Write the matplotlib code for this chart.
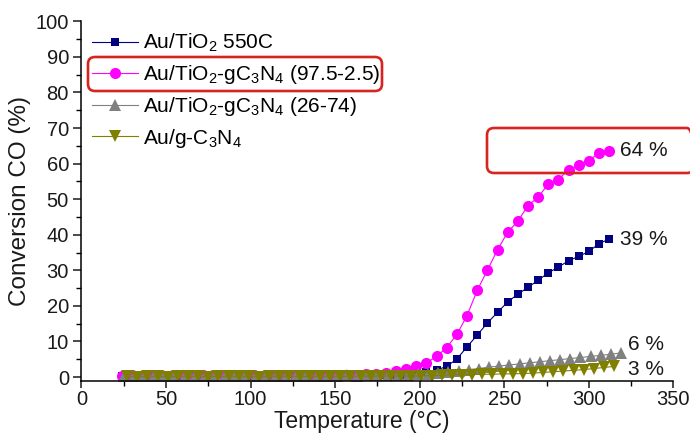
"""
CO conversion vs temperature for Au catalysts (recreated figure).
"""

import matplotlib
matplotlib.use("Agg")
import matplotlib.pyplot as plt
from matplotlib.patches import FancyBboxPatch
from matplotlib.ticker import MultipleLocator

plt.rcParams["font.family"] = ["Liberation Sans", "DejaVu Sans"]
plt.rcParams["mathtext.fontset"] = "custom"
plt.rcParams["mathtext.rm"] = "Liberation Sans"
plt.rcParams["mathtext.default"] = "regular"

# --- data ---
T_TIO2 = [24, 30, 36, 42, 48, 54, 60, 66, 72, 78, 84, 90, 96, 102, 108, 114, 120,
          126, 132, 138, 144, 150, 156, 162, 168, 174, 180, 186, 192, 198, 204, 210,
          216, 222, 228, 234, 240, 246, 252, 258, 264, 270, 276, 282, 288, 294, 300,
          306, 312]
CONV_TIO2 = [0.3, 0.2, 0.3, 0.2, 0.3, 0.3, 0.2, 0.3, 0.3, 0.2, 0.3, 0.3, 0.3, 0.2,
             0.3, 0.3, 0.3, 0.4, 0.3, 0.3, 0.4, 0.4, 0.4, 0.4, 0.5, 0.5, 0.5, 0.6,
             0.7, 0.9, 1.3, 2.0, 3.0, 5.1, 8.5, 11.8, 15.2, 18.2, 21.1, 23.3, 25.2,
             27.2, 29.3, 30.9, 32.7, 33.9, 35.3, 37.5, 38.8]

T_MIX1 = T_TIO2
CONV_MIX1 = [0.4, 0.5, 0.4, 0.5, 0.4, 0.5, 0.5, 0.4, 0.5, 0.5, 0.4, 0.5, 0.5, 0.5,
             0.4, 0.5, 0.5, 0.5, 0.5, 0.4, 0.5, 0.5, 0.6, 0.7, 0.8, 1.0, 1.2, 1.6,
             2.2, 3.0, 4.0, 5.8, 8.3, 12.0, 17.3, 24.4, 30.0, 35.8, 40.7, 43.8, 48.2,
             50.5, 54.3, 55.5, 58.3, 59.5, 60.8, 63.0, 63.6]

T_MIX2 = [25, 31, 37, 43, 49, 55, 61, 67, 73, 79, 85, 91, 97, 103, 109, 115, 121,
          127, 133, 139, 145, 151, 157, 163, 169, 175, 181, 187, 193, 199, 205, 211,
          217, 223, 229, 235, 241, 247, 253, 259, 265, 271, 277, 283, 289, 295, 301,
          307, 313, 319]
CONV_MIX2 = [0.3, 0.4, 0.3, 0.4, 0.4, 0.3, 0.4, 0.4, 0.3, 0.4, 0.4, 0.4, 0.3, 0.4,
             0.4, 0.4, 0.4, 0.3, 0.4, 0.4, 0.4, 0.4, 0.5, 0.4, 0.5, 0.5, 0.5, 0.6,
             0.6, 0.8, 1.0, 1.2, 1.5, 1.8, 2.1, 2.4, 2.8, 3.1, 3.4, 3.7, 4.0, 4.3,
             4.6, 4.9, 5.2, 5.5, 5.8, 6.1, 6.4, 6.8]

T_GCN = [27, 33, 39, 45, 51, 57, 63, 69, 75, 81, 87, 93, 99, 105, 111, 117, 123,
         129, 135, 141, 147, 153, 159, 165, 171, 177, 183, 189, 195, 201, 207, 213,
         219, 225, 231, 237, 243, 249, 255, 261, 267, 273, 279, 285, 291, 297, 303,
         309, 315]
CONV_GCN = [0.2, 0.1, 0.2, 0.2, 0.1, 0.2, 0.2, 0.2, 0.1, 0.2, 0.2, 0.2, 0.2, 0.1,
            0.2, 0.2, 0.2, 0.2, 0.2, 0.2, 0.2, 0.2, 0.2, 0.3, 0.2, 0.3, 0.3, 0.3,
            0.3, 0.3, 0.4, 0.5, 0.6, 0.7, 0.7, 0.8, 0.8, 0.9, 0.9, 1.0, 1.1, 1.3,
            1.5, 1.7, 1.9, 2.1, 2.4, 2.7, 3.0]

LABELS = [r"Au/TiO$_2$ 550C",
          r"Au/TiO$_2$-gC$_3$N$_4$ (97.5-2.5)",
          r"Au/TiO$_2$-gC$_3$N$_4$ (26-74)",
          r"Au/g-C$_3$N$_4$"]
END_TEXT = ["39 %", "64 %", "6 %", "3 %"]

SERIES = [
    (T_TIO2, CONV_TIO2, "#000080", "s", 6.3, (8, 0)),
    (T_MIX1, CONV_MIX1, "#ff00ff", "o", 8.0, (8, 0)),
    (T_MIX2, CONV_MIX2, "#808080", "^", 8.0, (5, 6)),
    (T_GCN, CONV_GCN, "#808000", "v", 8.0, (10, -2)),
]

RED = "#d8241f"
INK = "#1a1a1a"

fig = plt.figure(figsize=(6.9, 4.34), dpi=100)
ax = fig.add_axes([0.118, 0.123, 0.858, 0.828])

handles = []
for (tx, cy, col, mk, ms, off), lab, txt in zip(SERIES, LABELS, END_TEXT):
    h, = ax.plot(tx, cy, color=col, lw=0.8, marker=mk, markersize=ms,
                 markeredgewidth=0, label=lab)
    handles.append(h)
    ax.annotate(txt, xy=(tx[-1], cy[-1]), xytext=off, textcoords="offset points",
                ha="left", va="center", fontsize=15, color=INK,
                annotation_clip=False)

ax.set_xlim(0, 350)
ax.set_ylim(-1, 100)
ax.xaxis.set_major_locator(MultipleLocator(50))
ax.xaxis.set_minor_locator(MultipleLocator(25))
ax.yaxis.set_major_locator(MultipleLocator(10))
ax.yaxis.set_minor_locator(MultipleLocator(5))
ax.tick_params(which="major", direction="out", length=6, width=1.1,
               labelsize=14.5, pad=3, colors=INK)
ax.tick_params(axis="x", which="major", length=5, pad=1.5)
ax.tick_params(which="minor", direction="out", length=3.5, width=1.0)
for side in ("top", "right"):
    ax.spines[side].set_visible(False)
for side in ("left", "bottom"):
    ax.spines[side].set_linewidth(1.1)

# x label sits right at the bottom edge, as in the source figure
ax.set_xlabel("Temperature (°C)", fontsize=16.5, labelpad=0, color=INK)
ax.xaxis.set_label_coords(0.473, -0.147, transform=ax.transAxes)
ax.xaxis.label.set_va("bottom")
ax.set_ylabel("Conversion CO (%)", fontsize=17.5, labelpad=3, color=INK)

ax.legend(handles=handles, loc="upper left",
          bbox_to_anchor=(92 / 690, 1 - 32 / 434), bbox_transform=fig.transFigure,
          frameon=False, fontsize=15, handlelength=2.2, handletextpad=0.25,
          borderpad=0, borderaxespad=0, labelspacing=0.42)

# red highlight boxes (pixel positions on the 690x434 canvas)
for x0, y0, x1, y1 in [(88, 57, 382, 91), (487, 128, 694, 173)]:
    box = FancyBboxPatch((x0 / 100, (434 - y1) / 100), (x1 - x0) / 100, (y1 - y0) / 100,
                         boxstyle="round,pad=0,rounding_size=0.07",
                         transform=fig.dpi_scale_trans, facecolor="none",
                         edgecolor=RED, linewidth=1.9, zorder=10, clip_on=False)
    fig.patches.append(box)

fig.savefig("out.png", dpi=100)
